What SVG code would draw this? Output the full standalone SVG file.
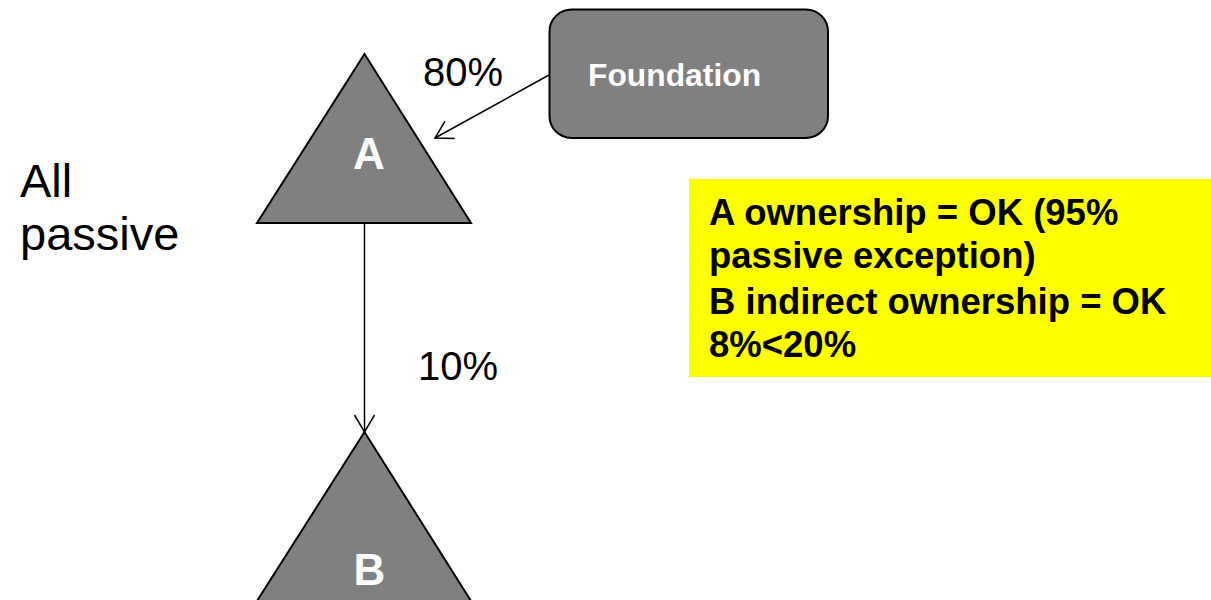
<svg xmlns="http://www.w3.org/2000/svg" width="1211" height="600" viewBox="0 0 1211 600">
<defs>
<style>
.shape{fill:#808080;stroke:#000;stroke-width:2;stroke-linejoin:miter}
.lbl{font-family:"Liberation Sans",Arial,sans-serif;fill:#000}
.wb{font-family:"Liberation Sans",Arial,sans-serif;font-weight:bold;fill:#fff;text-anchor:middle}
.conn{stroke:#000;stroke-width:1.5;fill:none;marker-end:url(#open)}
</style>
<marker id="open" markerUnits="userSpaceOnUse" markerWidth="30" markerHeight="30" viewBox="-20 -15 30 30" refX="0" refY="0" orient="auto">
<path d="M-17,-10 L0,0 L-17,10" fill="none" stroke="#000" stroke-width="1.5"/>
</marker>
</defs>
<rect width="1211" height="600" fill="#fff"/>
<g id="connectors">
<line class="conn" x1="549" y1="75" x2="435" y2="138"/>
<line class="conn" x1="364.5" y1="223" x2="364.5" y2="432"/>
</g>
<g id="nodeA">
<polygon class="shape" points="364.5,54 257,223 471,223"/>
<text class="wb" x="369" y="169" font-size="44">A</text>
</g>
<g id="nodeB">
<polygon class="shape" points="364.5,432 257,601 471,601"/>
<text class="wb" x="369.5" y="585" font-size="44">B</text>
</g>
<g id="foundation">
<rect class="shape" x="549.5" y="9.5" width="278.5" height="128.5" rx="22" ry="22"/>
<text class="wb" x="588" y="86" font-size="31.8" style="text-anchor:start">Foundation</text>
</g>
<g id="labels">
<text class="lbl" x="423" y="86" font-size="40">80%</text>
<text class="lbl" x="418" y="380" font-size="40">10%</text>
<text class="lbl" x="20" y="197" font-size="47">All</text>
<text class="lbl" x="20" y="250" font-size="47">passive</text>
</g>
<g id="note">
<rect x="689" y="179" width="522" height="198" fill="#ffff00"/>
<text class="lbl" font-size="36.5" font-weight="bold">
<tspan x="709" y="225">A ownership = OK (95%</tspan>
<tspan x="709" y="268">passive exception)</tspan>
<tspan x="709" y="314">B indirect ownership = OK</tspan>
<tspan x="709" y="357">8%&lt;20%</tspan>
</text>
</g>
</svg>
